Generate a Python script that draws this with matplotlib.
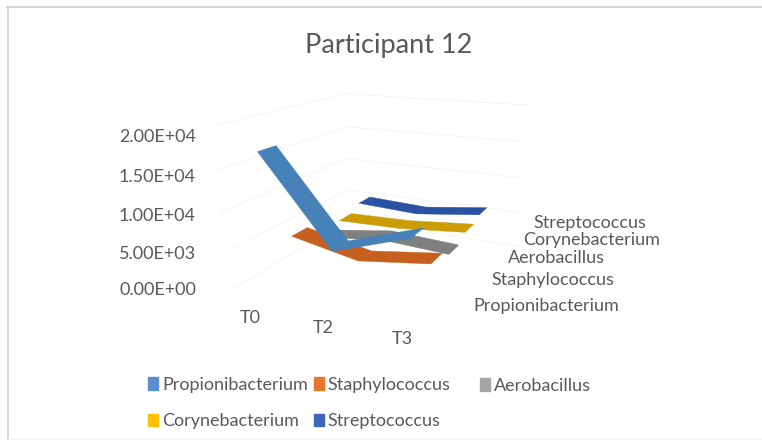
import matplotlib
matplotlib.use('Agg')
import matplotlib.pyplot as plt
from matplotlib.lines import Line2D
from matplotlib.patches import Patch
from mpl_toolkits.mplot3d.art3d import Poly3DCollection

plt.rcParams['font.family'] = ['Lato', 'DejaVu Sans']

times = ['T0', 'T2', 'T3']
series = ['Propionibacterium', 'Staphylococcus', 'Aerobacillus', 'Corynebacterium', 'Streptococcus']
propioni = [17300, 7100, 10000]
staphylo = [5500, 3800, 5000]
aerobac = [3300, 4500, 4000]
coryne = [3900, 4100, 4900]
strepto = [4800, 4400, 5500]
values = [propioni, staphylo, aerobac, coryne, strepto]
colors = ['#4682B8', '#C5601F', '#808080', '#CB9C05', '#2A52A2']
legend_colors = ['#5B8FD0', '#E8772E', '#A5A5A5', '#FFC000', '#3E66B8']
value_ticks = ['0.00E+00', '5.00E+03', '1.00E+04', '1.50E+04', '2.00E+04']
tick_vals = [0, 5000, 10000, 15000, 20000]
grey = '#595959'

fig = plt.figure(figsize=(7.62, 4.40), dpi=100)
# frame is only visible on the top and left of the picture
fig.add_artist(Line2D([7/762, 1], [1 - 7.5/440, 1 - 7.5/440], color='#CFCFCF', lw=1.2))
fig.add_artist(Line2D([7.5/762, 7.5/762], [0, 1 - 7/440], color='#CFCFCF', lw=1.2))
fig.add_artist(Line2D([7/762, 1], [1.5/440, 1.5/440], color='#F2F2F2', lw=1))

ax = fig.add_axes([0.14, 0.16, 0.72, 0.78], projection='3d', computed_zorder=False)
ax.set_proj_type('persp', focal_length=0.35)
ax.view_init(elev=16, azim=-65)
ax.set_box_aspect((220, 240, 160), zoom=1.02)
ax.set_xlim(-0.5, 2.5)
ax.set_ylim(-0.5, 4.5)
ax.set_zlim(0, 20000)
ax.set_axis_off()
ax.patch.set_alpha(0)

# pale walls
for v in tick_vals:
    ax.plot([-0.5, -0.5], [-0.5, 4.5], [v, v], color='#F6F6F6', lw=0.8, zorder=1)
    ax.plot([-0.5, 2.5], [4.5, 4.5], [v, v], color='#F6F6F6', lw=0.8, zorder=1)

w = 0.3
for i, vals in enumerate(values):
    for t in range(len(times) - 1):
        quad = [(t, i - w, vals[t]), (t, i + w, vals[t]),
                (t + 1, i + w, vals[t + 1]), (t + 1, i - w, vals[t + 1])]
        ax.add_collection3d(Poly3DCollection([quad], facecolor=colors[i], edgecolor=colors[i],
                                             lw=0.3, zorder=10 - i))

fig.text(389/762, 1 - 45/440, 'Participant 12', fontsize=19.5, color=grey, ha='center', va='center')

tick_y = [290, 254, 216, 177, 137]
for lab, y in zip(value_ticks, tick_y):
    fig.text(196/762, 1 - y/440, lab, fontsize=13, color=grey, ha='right', va='center')

time_xy = [(250, 318), (323, 328), (402, 339)]
for lab, (x, y) in zip(times, time_xy):
    fig.text(x/762, 1 - y/440, lab, fontsize=13, color=grey, ha='center', va='center')

series_xy = [(473, 306), (491, 280), (508, 258), (523, 240), (533, 223)]
for lab, (x, y) in zip(series, series_xy):
    fig.text(x/762, 1 - y/440, lab, fontsize=13, color=grey, ha='left', va='center')

order = [0, 3, 1, 4]
handles = [Patch(color=legend_colors[i], label=series[i]) for i in order]
fig.legend(handles=handles, ncol=2, frameon=False, loc='center left',
           bbox_to_anchor=(148/762, 1 - 403/440), fontsize=13, labelcolor=grey,
           handlelength=0.55, handleheight=0.7, handletextpad=0.22, columnspacing=0.35,
           labelspacing=1.15, borderpad=0, borderaxespad=0)
fig.legend(handles=[Patch(color=legend_colors[2], label=series[2])], frameon=False, loc='center left',
           bbox_to_anchor=(480/762, 1 - 386/440), fontsize=13, labelcolor=grey,
           handlelength=0.55, handleheight=0.7, handletextpad=0.22, borderpad=0, borderaxespad=0)

fig.savefig('out.png', dpi=100)
